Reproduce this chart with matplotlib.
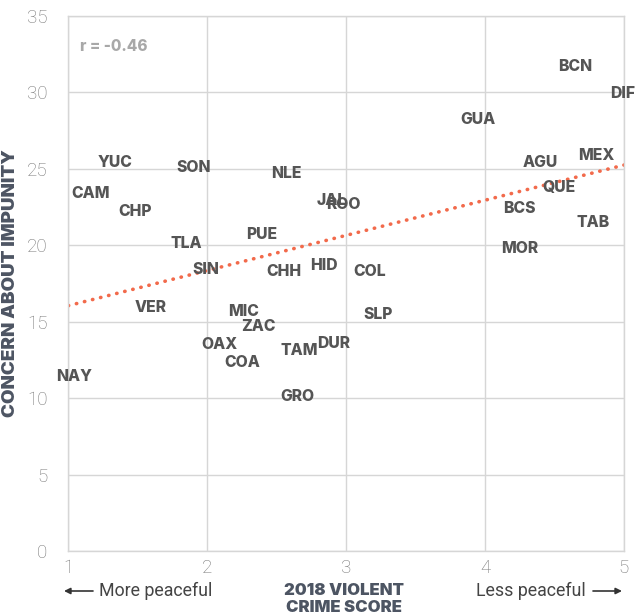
import matplotlib.pyplot as plt

# state codes and their positions (violent crime score, concern about impunity)
states = ["BCN", "DIF", "GUA", "AGU", "MEX", "QUE", "BCS", "TAB", "MOR",
          "JAL", "ROO", "HID", "COL", "YUC", "SON", "NLE", "CAM", "CHP",
          "TLA", "PUE", "SIN", "CHH", "VER", "MIC", "ZAC", "SLP", "OAX",
          "COA", "TAM", "DUR", "NAY", "GRO"]
crime = [4.65, 4.99, 3.95, 4.40, 4.80, 4.53, 4.25, 4.78, 4.25,
         2.90, 2.98, 2.84, 3.17, 1.34, 1.90, 2.57, 1.16, 1.48,
         1.85, 2.39, 1.99, 2.55, 1.59, 2.26, 2.37, 3.23, 2.09,
         2.25, 2.66, 2.91, 1.04, 2.65]
impunity = [31.7, 29.9, 28.2, 25.4, 25.9, 23.8, 22.4, 21.5, 19.8,
            22.9, 22.7, 18.7, 18.3, 25.4, 25.1, 24.7, 23.4, 22.2,
            20.1, 20.7, 18.4, 18.3, 15.9, 15.7, 14.7, 15.5, 13.5,
            12.3, 13.1, 13.6, 11.4, 10.1]

trend_x = [1, 5]
trend_y = [16.05, 25.25]

x_ticks = [1, 2, 3, 4, 5]
y_ticks = [0, 5, 10, 15, 20, 25, 30, 35]

label_color = "#555555"
grid_color = "#d6d6d6"
tick_color = "#777777"
title_color = "#4d5563"
bold_font = "Inter"

fig = plt.figure(figsize=(6.35, 6.16), dpi=100)
ax = fig.add_axes([0.1076, 0.1055, 0.875, 0.8685])

ax.set_xlim(1, 5)
ax.set_ylim(0, 35)
ax.set_xticks(x_ticks)
ax.set_yticks(y_ticks)
ax.grid(True, color=grid_color, linewidth=1)
ax.set_axisbelow(True)
for s in ax.spines.values():
    s.set_color(grid_color)
    s.set_linewidth(1)
ax.tick_params(length=0, labelsize=13.5, labelcolor=tick_color, pad=6)
for lab in ax.get_xticklabels() + ax.get_yticklabels():
    lab.set_fontfamily("Roboto")
    lab.set_fontweight("light")
ax.tick_params(axis="y", pad=15)

ax.plot(trend_x, trend_y, color="#f26a4b", linewidth=2.6,
        linestyle=(0, (0.1, 2.2)), dash_capstyle="round", zorder=2)

for name, x, y in zip(states, crime, impunity):
    ax.text(x, y, name, ha="center", va="center", fontsize=11.3,
            fontweight="heavy", color=label_color, family=bold_font,
            clip_on=False, zorder=3)

ax.text(1.085, 33.0, "r = -0.46", ha="left", va="center", fontsize=11,
        fontweight="heavy", color="#a8a8a8", family=bold_font)

ax.set_ylabel("CONCERN ABOUT IMPUNITY", fontsize=13.5, fontweight="black",
              color=title_color, family=bold_font)
ax.yaxis.set_label_coords(-0.089, 0.5)

fig.text(344 / 635, 1 - 599 / 616, "2018 VIOLENT\nCRIME SCORE", ha="center",
         va="center", fontsize=12, fontweight="black", color=title_color,
         family=bold_font, linespacing=1.12)
fig.text(99 / 635, 1 - 591 / 616, "More peaceful", ha="left", va="center",
         fontsize=12.8, color="#444444", family="Roboto")
fig.text(586 / 635, 1 - 591 / 616, "Less peaceful", ha="right", va="center",
         fontsize=12.8, color="#444444", family="Roboto")
ax.annotate("", xy=(64 / 635, 1 - 591 / 616), xytext=(93 / 635, 1 - 591 / 616),
            xycoords="figure fraction", textcoords="figure fraction",
            arrowprops=dict(arrowstyle="-|>", color="#333333", lw=1.2,
                            mutation_scale=9, shrinkA=0, shrinkB=0))
ax.annotate("", xy=(622 / 635, 1 - 591 / 616), xytext=(593 / 635, 1 - 591 / 616),
            xycoords="figure fraction", textcoords="figure fraction",
            arrowprops=dict(arrowstyle="-|>", color="#333333", lw=1.2,
                            mutation_scale=9, shrinkA=0, shrinkB=0))

fig.savefig("out.png", dpi=100)
